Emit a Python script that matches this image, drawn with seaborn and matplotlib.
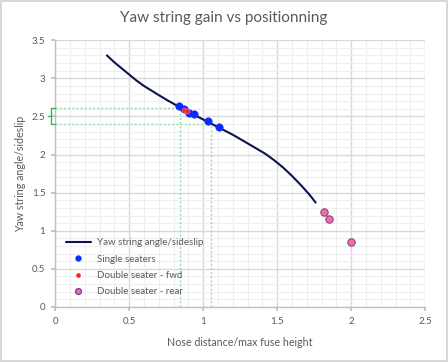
import numpy as np
import pandas as pd
import matplotlib
matplotlib.use("Agg")
import matplotlib.pyplot as plt
from matplotlib.lines import Line2D
from matplotlib.ticker import MultipleLocator
import seaborn as sns

# -----------------------------
# DATA
# -----------------------------
curve_x = [0.35, 0.40, 0.45, 0.50, 0.55, 0.60, 0.65, 0.70, 0.76, 0.82, 0.90,
           1.00, 1.10, 1.20, 1.28, 1.35, 1.42, 1.48, 1.54, 1.60, 1.66, 1.72, 1.76]
curve_y = [3.30, 3.21, 3.13, 3.05, 2.97, 2.90, 2.84, 2.78, 2.71, 2.645, 2.56,
           2.46, 2.36, 2.26, 2.17, 2.09, 2.01, 1.925, 1.83, 1.72, 1.60, 1.47, 1.37]

single_x = [0.84, 0.87, 0.905, 0.935, 1.03, 1.105]
single_y = [2.63, 2.60, 2.55, 2.53, 2.44, 2.36]

fwd_x = [0.874, 0.89]
fwd_y = [2.59, 2.575]

rear_x = [1.818, 1.853, 2.0]
rear_y = [1.24, 1.16, 0.855]

# guide lines (green dotted) and bracket
guide_x = [0.845, 1.054]
guide_y = [2.61, 2.40]

series_labels = ["Yaw string angle/sideslip", "Single seaters",
                 "Double seater - fwd", "Double seater - rear"]

# -----------------------------
# STYLE
# -----------------------------
sns.set_theme(style="white")
plt.rcParams['font.family'] = ['Lato', 'DejaVu Sans']
TXT = "#595959"

fig = plt.figure(figsize=(4.48, 3.62), dpi=100)
fig.patch.set_edgecolor("#d9d9d9")
fig.patch.set_linewidth(1.5)
ax = fig.add_axes([0.123, 0.152, 0.826, 0.737])

# -----------------------------
# PLOT
# -----------------------------
curve = pd.DataFrame({"x": curve_x, "y": curve_y})
sns.lineplot(data=curve, x="x", y="y", sort=False, color="#0a1450",
             linewidth=1.5, ax=ax, zorder=3)

green_dot = "#9ad9aa"
dots = (0, (1.5, 1.5))
ax.plot([0, guide_x[0]], [guide_y[0], guide_y[0]], ls=dots, color=green_dot, lw=1, zorder=2)
ax.plot([0, guide_x[1]], [guide_y[1], guide_y[1]], ls=dots, color=green_dot, lw=1, zorder=2)
ax.plot([guide_x[0], guide_x[0]], [0, guide_y[0]], ls=dots, color=green_dot, lw=1, zorder=2)
ax.plot([guide_x[1], guide_x[1]], [0, guide_y[1]], ls=dots, color=green_dot, lw=1, zorder=2)

# bracket left of the axis
bx = -0.028
mid = (guide_y[0] + guide_y[1]) / 2
ax.plot([0, bx, bx, 0], [guide_y[0], guide_y[0], guide_y[1], guide_y[1]],
        color="#33b35a", lw=1, clip_on=False, zorder=4)
ax.plot([bx, bx - 0.018], [mid, mid], color="#33b35a", lw=1, clip_on=False, zorder=4)

sns.scatterplot(x=single_x, y=single_y, color="#0a2cff", s=28, edgecolor="#0a2cff",
                linewidth=0.5, ax=ax, zorder=5)
sns.scatterplot(x=fwd_x, y=fwd_y, color="#ff2020", s=12, edgecolor="#ff6060",
                linewidth=0.5, ax=ax, zorder=6)
sns.scatterplot(x=rear_x, y=rear_y, color="#f27484", s=28, edgecolor="#8040b0",
                linewidth=0.8, ax=ax, zorder=5)

# -----------------------------
# AXES
# -----------------------------
ax.set_xlim(0, 2.5)
ax.set_ylim(0, 3.5)
ax.xaxis.set_major_locator(MultipleLocator(0.5))
ax.yaxis.set_major_locator(MultipleLocator(0.5))
ax.xaxis.set_minor_locator(MultipleLocator(0.1))
ax.yaxis.set_minor_locator(MultipleLocator(0.1))
ax.grid(which="major", color="#d9d9d9", lw=1)
ax.grid(which="minor", color="#efefef", lw=0.8)
ax.set_axisbelow(True)

ax.set_xticks([0, 0.5, 1, 1.5, 2, 2.5])
ax.set_xticklabels(["0", "0.5", "1", "1.5", "2", "2.5"])
ax.set_yticks([0, 0.5, 1, 1.5, 2, 2.5, 3, 3.5])
ax.set_yticklabels(["0", "0.5", "1", "1.5", "2", "2.5", "3", "3.5"])

for side in ["top", "right"]:
    ax.spines[side].set_visible(False)
for side in ["left", "bottom"]:
    ax.spines[side].set_color("#bfbfbf")
    ax.spines[side].set_linewidth(1)
ax.tick_params(axis="both", which="major", labelsize=7, colors=TXT, length=3,
               direction="out", color="#bfbfbf", left=True, bottom=True, pad=4)
ax.tick_params(which="minor", length=0)

ax.set_xlabel("Nose distance/max fuse height", fontsize=7.7, color=TXT, labelpad=8)
ax.set_ylabel("Yaw string angle/sideslip", fontsize=7.7, color=TXT, labelpad=4)
fig.suptitle("Yaw string gain vs positionning", x=0.5, y=0.97, fontsize=11, color=TXT)

handles = [
    Line2D([], [], color="#0a1450", lw=1.5),
    Line2D([], [], ls="", marker="o", ms=3.5, color="#0a2cff"),
    Line2D([], [], ls="", marker="o", ms=2.3, color="#ff2020"),
    Line2D([], [], ls="", marker="o", ms=4.2, markerfacecolor="#f27484", markeredgecolor="#8040b0"),
]
ax.legend(handles, series_labels, loc="lower left", bbox_to_anchor=(0.0, 0.0),
          frameon=False, fontsize=7, labelcolor=TXT, handlelength=2.6,
          borderpad=0.6, labelspacing=0.75, handletextpad=0.6)

fig.savefig("out.png", dpi=100)
